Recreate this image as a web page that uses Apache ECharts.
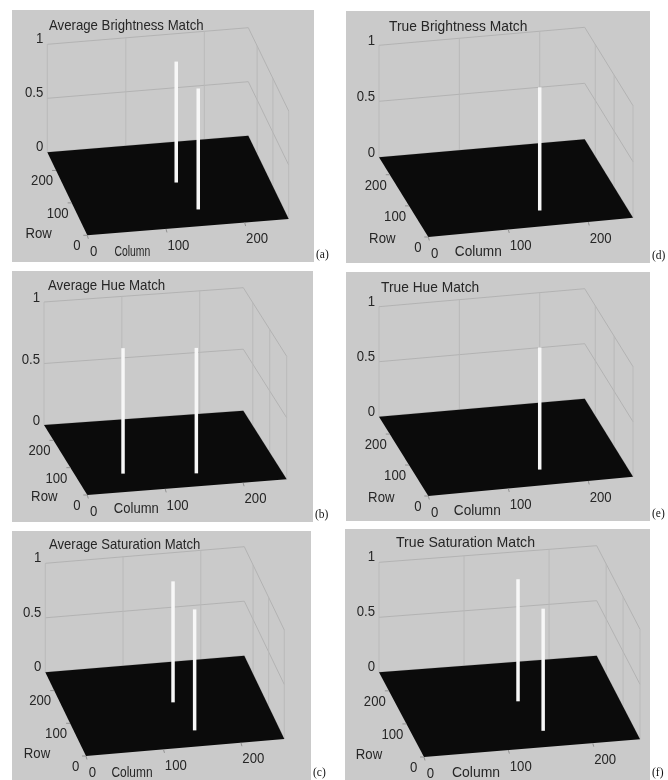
<!DOCTYPE html>
<html>
<head>
<meta charset="utf-8">
<style>html,body{margin:0;padding:0;background:#fff}#c{width:668px;height:780px;filter:blur(0.4px)}</style>
<script src="https://cdn.jsdelivr.net/npm/echarts@6/dist/echarts.min.js"></script>
</head>
<body>
<div id="c"></div>
<script>
// ---- data ----
const panelTitles = ['Average Brightness Match','Average Hue Match','Average Saturation Match','True Brightness Match','True Hue Match','True Saturation Match'];
const panelTags = ['(a)','(b)','(c)','(d)','(e)','(f)'];
const colTicks = [0,100,200];
const rowTicks = [0,100,200];
const zTicks = [0,0.5,1];
const colName = 'Column';
const rowName = 'Row';
const barsA = [[140,135,1.12],[151,50,1.12]];
const barsB = [[60,65,1.02],[150,46,1.02]];
const barsC = [[140,136,1.11],[150,48,1.11]];
const barsD = [[151,49,1.10]];
const barsE = [[151,49,1.11]];
const barsF = [[140,140,1.11],[151,48,1.11]];
const panelBars = [barsA,barsB,barsC,barsD,barsE,barsF];

// ---- layout (panel box, projected floor corners, wall height, label nudges, glyph squeeze) ----
const layouts = [
 {box:[12,10,302,252], bl:[47.3,152.3], br:[248.3,135.7], fr:[288.7,219], fl:[87.3,235.3], h:108, title:[49,26], tsx:.88, csx:.67, row:[-48.7,-1.3], col:[45,16.3], zdy:-5.5},
 {box:[12,271,301,251], bl:[44,425], br:[243.3,410.7], fr:[286.7,479.3], fl:[87.3,495], h:123, title:[48,285.7], tsx:.886, csx:.84, row:[-43,2], col:[49,14], zdy:-4},
 {box:[12,531,299,249], bl:[45.3,672.3], br:[244.3,655.7], fr:[284.3,739], fl:[86,756], h:109, title:[49,544.7], tsx:.874, csx:.77, row:[-49,-2], col:[46,17], zdy:-5.5},
 {box:[346,11,304,252], bl:[379,157.3], br:[584.7,139.3], fr:[633,217.7], fl:[428.3,237], h:112, title:[389,27], tsx:.92, csx:.88, row:[-46,1.7], col:[50,15], zdy:-5},
 {box:[346,272,304,249], bl:[379,416.7], br:[584.7,398.7], fr:[633,476.7], fl:[428.3,496], h:110, title:[381,287.7], tsx:.918, csx:.88, row:[-47,1.3], col:[49,15], zdy:-5},
 {box:[345,529,305,251], bl:[379,672.3], br:[596.7,655.7], fr:[640,739.3], fl:[424,757], h:110, title:[396,543.3], tsx:.94, csx:.9, row:[-55,-2], col:[52,16], zdy:-5.5}
];
const COL_MAX = 256, ROW_MAX = 256;
const gridColor = '#b0b0b0', faintColor = '#b8b8b8', textColor = '#262626', floorColor = '#0b0b0b', barColor = '#f7f7f7', panelColor = '#cacaca';
const family = '"Liberation Sans", Arial, sans-serif';
const font = '15.5px ' + family, titleFont = '15px ' + family;
const TICK_SX = 0.85;

function projector(L, api, cs){
  // axis scales give normalised position; floor corners place it on the page
  return function(col,row,z){
    const p = api.coord([col,row]);
    const u = (p[0]-cs.x)/cs.width, v = (p[1]-cs.y)/cs.height;
    const tx = L.bl[0]+(L.br[0]-L.bl[0])*u, ty = L.bl[1]+(L.br[1]-L.bl[1])*u;
    const bx = L.fl[0]+(L.fr[0]-L.fl[0])*u, by = L.fl[1]+(L.fr[1]-L.fl[1])*u;
    return [tx+(bx-tx)*v, ty+(by-ty)*v-(z||0)*L.h];
  };
}
function seg(a,b,color,w){
  return {type:'line',shape:{x1:a[0],y1:a[1],x2:b[0],y2:b[1]},style:{stroke:color||gridColor,lineWidth:w||0.9,fill:null}};
}
function txt(s,x,y,align,f,color,sx){
  return {type:'text',x:x,y:y,scaleX:sx||TICK_SX,scaleY:1,style:{text:s,font:f||font,fill:color||textColor,align:align||'center',verticalAlign:'middle'}};
}
function frameItem(i){
  const L = layouts[i];
  return function(params,api){
    const cs = params.coordSys, P = projector(L,api,cs), els = [];
    zTicks.forEach(z=>{
      els.push(seg(P(0,ROW_MAX,z),P(COL_MAX,ROW_MAX,z)));
      els.push(seg(P(COL_MAX,ROW_MAX,z),P(COL_MAX,0,z)));
      const a = P(0,ROW_MAX,z);
      els.push(txt(String(z),a[0]-4,a[1]+L.zdy,'right'));
    });
    els.push(seg(P(0,ROW_MAX,0),P(0,ROW_MAX,1),faintColor));
    colTicks.filter(c=>c>0).forEach(c=>els.push(seg(P(c,ROW_MAX,0),P(c,ROW_MAX,1),faintColor)));
    rowTicks.forEach(r=>els.push(seg(P(COL_MAX,r,0),P(COL_MAX,r,1),faintColor)));
    // floor
    const f = [P(0,ROW_MAX,0),P(COL_MAX,ROW_MAX,0),P(COL_MAX,0,0),P(0,0,0)];
    els.push({type:'polygon',shape:{points:f},style:{fill:floorColor}});
    // ticks and labels
    colTicks.forEach(c=>{
      const a = P(c,0,0);
      els.push(seg(a,[a[0]+1,a[1]+3.5],'#8a8a8a'));
      els.push(txt(String(c),a[0]+(c===0?6.3:12.4),a[1]+16.4));
    });
    rowTicks.forEach(r=>{
      const a = P(0,r,0);
      els.push(seg(a,[a[0]-4,a[1]],'#8a8a8a'));
      els.push(txt(String(r),a[0]+(r===0?-10.3:-14),a[1]+10.6));
    });
    const o = P(0,0,0);
    els.push(txt(rowName,o[0]+L.row[0],o[1]+L.row[1]));
    els.push(txt(colName,o[0]+L.col[0],o[1]+L.col[1],'center',font,textColor,L.csx));
    els.push(txt(panelTags[i],cs.x+cs.width+2,cs.y+cs.height-7,'left','11.5px "Liberation Serif", serif','#111',1));
    els.push(txt(panelTitles[i],L.title[0],L.title[1],'left',titleFont,textColor,L.tsx));
    return {type:'group',children:els};
  };
}
function barItem(i){
  const L = layouts[i];
  return function(params,api){
    const P = projector(L,api,params.coordSys);
    const col = api.value(0), row = api.value(1), z = api.value(2);
    const a = P(col,row,0), b = P(col,row,z);
    return {type:'line',shape:{x1:a[0],y1:a[1],x2:b[0],y2:b[1]},style:{stroke:barColor,lineWidth:3.5,fill:null}};
  };
}
const option = {
  animation:false,
  backgroundColor:'#ffffff',
  grid: layouts.map(L=>({left:L.box[0],top:L.box[1],width:L.box[2],height:L.box[3],show:true,backgroundColor:panelColor,borderWidth:0,containLabel:false})),
  xAxis: layouts.map((L,i)=>({type:'value',gridIndex:i,min:0,max:COL_MAX,show:false})),
  yAxis: layouts.map((L,i)=>({type:'value',gridIndex:i,min:0,max:ROW_MAX,show:false})),
  series: []
};
layouts.forEach((L,i)=>{
  option.series.push({type:'custom',xAxisIndex:i,yAxisIndex:i,silent:true,clip:false,z:2,renderItem:frameItem(i),data:[[0,0]],encode:{x:0,y:1}});
  option.series.push({type:'custom',name:panelTitles[i],xAxisIndex:i,yAxisIndex:i,silent:true,clip:false,z:3,renderItem:barItem(i),data:panelBars[i],encode:{x:0,y:1}});
});
const chart = echarts.init(document.getElementById('c'),null,{renderer:'canvas',width:668,height:780});
chart.setOption(option);
</script>
</body>
</html>
